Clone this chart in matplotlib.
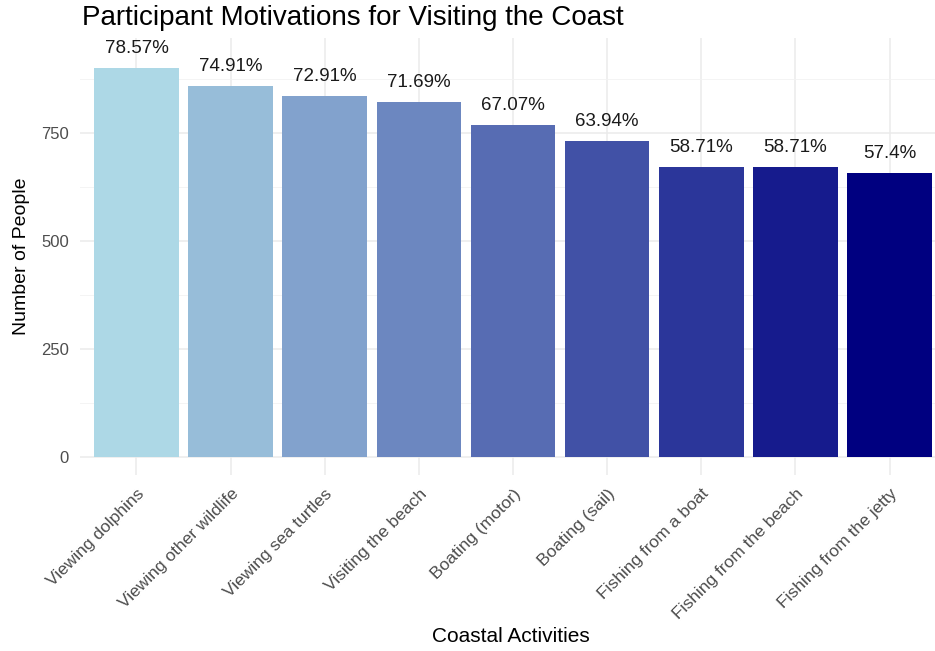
import matplotlib
matplotlib.use("Agg")
import matplotlib.pyplot as plt
import numpy as np

# Activities and respondent counts (out of 1145 participants)
activities = [
    "Viewing dolphins",
    "Viewing other wildlife",
    "Viewing sea turtles",
    "Visiting the beach",
    "Boating (motor)",
    "Boating (sail)",
    "Fishing from a boat",
    "Fishing from the beach",
    "Fishing from the jetty",
]
counts = [900, 858, 835, 821, 768, 732, 672, 672, 657]
percent_labels = ["78.57%", "74.91%", "72.91%", "71.69%", "67.07%",
                  "63.94%", "58.71%", "58.71%", "57.4%"]

# lightblue -> navy gradient along the bar order
n = len(activities)
low = np.array(matplotlib.colors.to_rgb("#ADD8E6"))
high = np.array(matplotlib.colors.to_rgb("#000080"))
colors = [low + (high - low) * i / (n - 1) for i in range(n)]

plt.rcParams["font.family"] = ["Liberation Sans", "DejaVu Sans"]

fig = plt.figure(figsize=(9.35, 6.51), dpi=100)
ax = fig.add_axes([80 / 935, 1 - 475 / 651, 866 / 935, (475 - 38) / 651])

x = np.arange(1, n + 1)
ax.bar(x, counts, width=0.9, color=colors, zorder=2)

for xi, c, lab in zip(x, counts, percent_labels):
    ax.annotate(lab, (xi, c), xytext=(0, 8), textcoords="offset points",
                ha="center", va="bottom", fontsize=13.5, color="#1a1a1a", zorder=3)

ax.set_xlim(0.4, n + 0.6)
ax.set_ylim(-42, 970)
ax.set_yticks([0, 250, 500, 750])
ax.set_yticks([125, 375, 625, 875], minor=True)
ax.set_xticks(x)
ax.set_xticklabels(activities, rotation=45, ha="right", rotation_mode="anchor",
                   fontsize=12.5, color="#4D4D4D")
ax.tick_params(axis="y", labelsize=12, labelcolor="#4D4D4D", length=0, pad=8)
ax.tick_params(axis="y", which="minor", length=0)
ax.tick_params(axis="x", length=0, pad=8)

ax.grid(True, which="major", color="#EBEBEB", linewidth=1.1, zorder=0)
ax.grid(True, which="minor", axis="y", color="#F2F2F2", linewidth=0.6, zorder=0)
for s in ax.spines.values():
    s.set_visible(False)

ax.set_ylabel("Number of People", fontsize=14, color="black", labelpad=8)
fig.text(511 / 935, 1 - 637 / 651, "Coastal Activities",
         fontsize=15, color="black", ha="center", va="center")
fig.text(82 / 935, 1 - 25 / 651, "Participant Motivations for Visiting the Coast",
         fontsize=20, color="black", ha="left", va="baseline")

fig.savefig("out.png", dpi=100)
